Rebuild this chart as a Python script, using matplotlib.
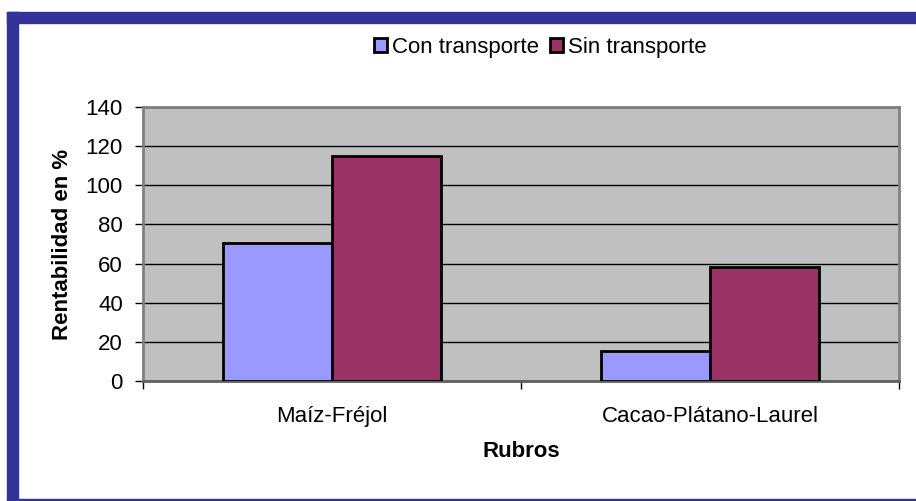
import matplotlib
matplotlib.use('Agg')
import matplotlib.pyplot as plt
from matplotlib.patches import Rectangle

plt.rcParams['font.family'] = ['Liberation Sans', 'DejaVu Sans']

rubros = ['Maíz-Fréjol', 'Cacao-Plátano-Laurel']
con_transporte = [70.5, 15.5]
sin_transporte = [115, 58]
yticks = [0, 20, 40, 60, 80, 100, 120, 140]

W, H = 916, 501
fs = 16
fig = plt.figure(figsize=(W / 100, H / 100), dpi=100)

# marco azul
azul = '#333399'
fig.patches.append(Rectangle((7 / W, 0), 10.5 / W, (H - 12) / H, transform=fig.transFigure,
                             color=azul, zorder=0))
fig.patches.append(Rectangle((7 / W, (H - 23) / H), (W - 7) / W, 11 / H, transform=fig.transFigure,
                             color=azul, zorder=0))
fig.patches.append(Rectangle((7 / W, 0), (W - 7) / W, 2 / H, transform=fig.transFigure,
                             color=azul, zorder=0))

ax = fig.add_axes([143 / W, 1 - 381 / H, (899 - 143) / W, (381 - 107) / H])
ax.set_facecolor('#C0C0C0')

x = list(range(len(rubros)))
w = 0.288
ax.bar([i - w / 2 for i in x], con_transporte, w, color='#9999FF', edgecolor='black',
       linewidth=2, label='Con transporte', zorder=3)
ax.bar([i + w / 2 for i in x], sin_transporte, w, color='#993366', edgecolor='black',
       linewidth=2, label='Sin transporte', zorder=3)

ax.set_xlim(-0.5, len(rubros) - 0.5)
ax.set_ylim(0, 140)
ax.set_yticks(yticks)
ax.yaxis.grid(True, color='black', linewidth=1, zorder=1)
ax.set_axisbelow(True)

ax.set_xticks(x)
ax.set_xticklabels(rubros, fontsize=fs)
ax.tick_params(axis='x', length=0, pad=18)
ax.set_xticks([-0.5, 0.5, 1.5], minor=True)
ax.tick_params(axis='x', which='minor', length=6, width=1, color='black', direction='out')
ax.tick_params(axis='y', labelsize=fs, length=6, width=1, color='black', pad=8.5)

for s in ['top', 'right', 'left']:
    ax.spines[s].set_color('#808080')
    ax.spines[s].set_linewidth(2)
ax.spines['bottom'].set_color('#606060')
ax.spines['bottom'].set_linewidth(2)

ax.set_ylabel('Rentabilidad en %', fontsize=fs, fontweight='bold', va='center')
ax.yaxis.set_label_coords((62 - 143) / 756, 0.5)
ax.set_xlabel('Rubros', fontsize=fs, fontweight='bold', va='baseline')
ax.xaxis.set_label_coords(0.5, (381 - 457) / 274)

fig.legend(loc='center', bbox_to_anchor=(540 / W, 1 - 47 / H), ncol=2, frameon=False,
           fontsize=fs, handlelength=0.6, handleheight=0.6, handletextpad=0.2,
           columnspacing=0.5)

fig.savefig('out.png', dpi=100)
